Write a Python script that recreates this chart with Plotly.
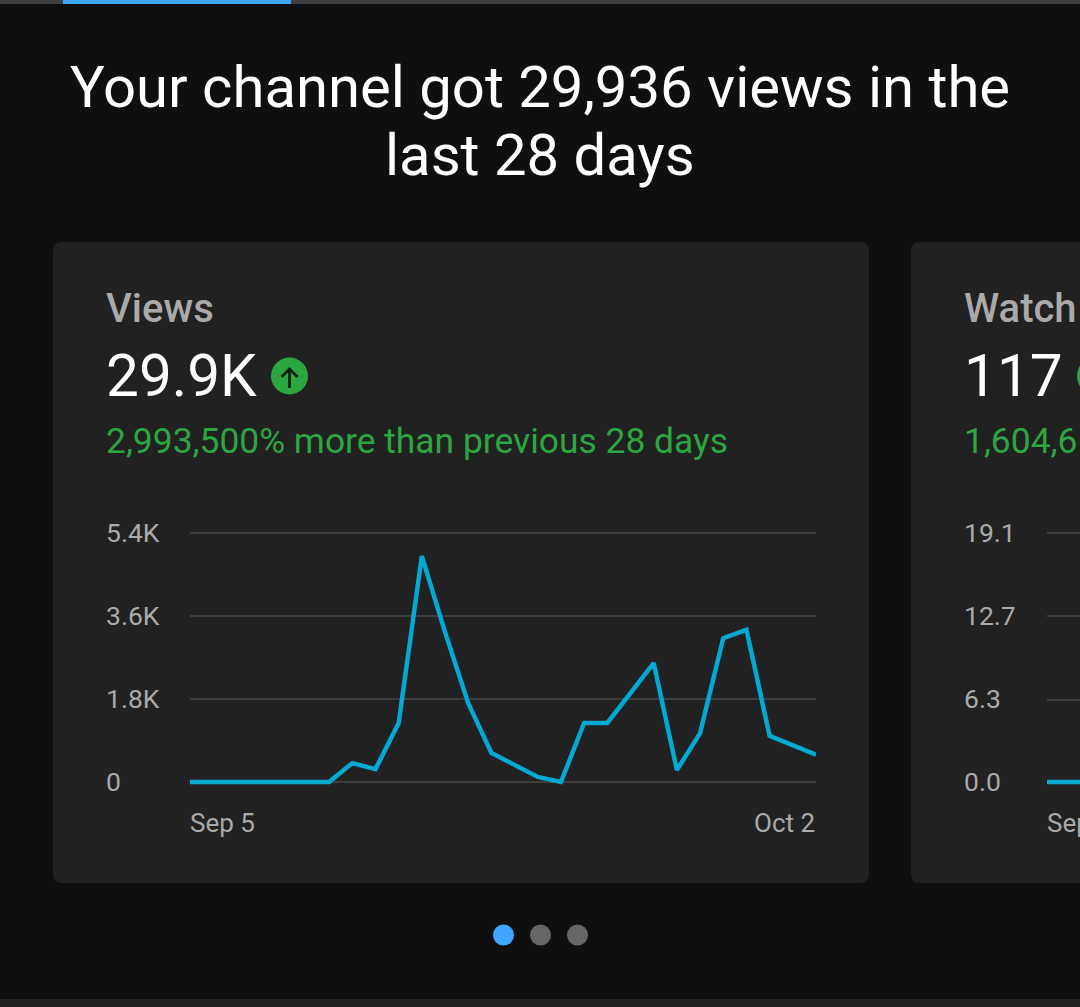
import plotly.graph_objects as go
import pandas as pd

W, H = 1080, 1007

dates = pd.date_range("2023-09-05", "2023-10-02").strftime("%Y-%m-%d").tolist()
views = [0, 0, 0, 0, 0, 0, 0, 410, 280, 1280, 4900, 3250, 1710, 630, 370, 110, 0,
         1280, 1280, 1930, 2580, 260, 1060, 3120, 3300, 1000, 800, 590]
watch_dates = ["2023-09-05", "2023-09-06", "2023-09-07"]
watch_hours = [0, 0, 0]

views_ticks = [0, 1800, 3600, 5400]
views_tick_labels = ["0", "1.8K", "3.6K", "5.4K"]
watch_ticks = [0, 6.3, 12.7, 19.1]
watch_tick_labels = ["0.0", "6.3", "12.7", "19.1"]

BG, CARD, GRID, LINE = "#0f0f0f", "#212121", "#3d3d3d", "#04a8d0"
BLUE, GREEN, MUTED = "#3ea6ff", "#2ba640", "#aaaaaa"
FONT = "Roboto"
PAD = 6  # pixels of plot area beyond the top and bottom gridlines
PLOT_TOP, PLOT_BOTTOM = 533, 782


def px(x):
    return x / W


def py(y):
    return 1 - y / H


def rect(x0, y0, x1, y1, color):
    return dict(type="rect", xref="paper", yref="paper", x0=px(x0), x1=px(x1), y0=py(y0), y1=py(y1),
                fillcolor=color, line_width=0, layer="below")


def rounded(x0, y0, x1, y1, r, color):
    p = (f"M {px(x0+r)} {py(y0)} L {px(x1-r)} {py(y0)} Q {px(x1)} {py(y0)} {px(x1)} {py(y0+r)} "
         f"L {px(x1)} {py(y1-r)} Q {px(x1)} {py(y1)} {px(x1-r)} {py(y1)} "
         f"L {px(x0+r)} {py(y1)} Q {px(x0)} {py(y1)} {px(x0)} {py(y1-r)} "
         f"L {px(x0)} {py(y0+r)} Q {px(x0)} {py(y0)} {px(x0+r)} {py(y0)} Z")
    return dict(type="path", xref="paper", yref="paper", path=p, fillcolor=color, line_width=0, layer="below")


def circle(cx, cy, r, color):
    return dict(type="circle", xref="paper", yref="paper", x0=px(cx-r), x1=px(cx+r), y0=py(cy+r), y1=py(cy-r),
                fillcolor=color, line_width=0, layer="above")


def text(x, y, s, size, color, anchor="left", weight=400):
    return dict(xref="paper", yref="paper", x=px(x), y=py(y), text=s, showarrow=False, xanchor=anchor,
                yanchor="middle", font=dict(family=FONT, size=size, color=color, weight=weight))


shapes = [
    rect(0, 0, W, 4, "#3f3f3f"),
    rect(63, 0, 291, 4, BLUE),
    rect(0, 999, W, H, "#212121"),
    rounded(53, 242, 869, 883, 9, CARD),
    rounded(911, 242, 1110, 883, 9, CARD),
    circle(289.5, 376, 18.5, GREEN),
    circle(1096, 376, 19, GREEN),
    circle(503.5, 935, 10.5, BLUE),
    circle(540.5, 935, 10.5, "#666666"),
    circle(577.5, 935, 10.5, "#666666"),
    dict(type="path", xref="paper", yref="paper", layer="above", line=dict(color="#12210f", width=2.8),
         path=f"M {px(289.5)} {py(388)} L {px(289.5)} {py(369)} M {px(281.5)} {py(377)} "
              f"L {px(289.5)} {py(369)} L {px(297.5)} {py(377)}"),
]

annotations = [
    text(540, 87, "Your channel got 29,936 views in the", 58, "#ffffff", "center"),
    text(540, 155, "last 28 days", 58, "#ffffff", "center"),
    text(104, 308, "Views", 40, MUTED, weight=500),
    text(104, 376, "29.9K", 58.5, "#ffffff"),
    text(104, 441, "2,993,500% more than previous 28 days", 35.4, GREEN),
    text(962, 308, "Watch", 40, MUTED, weight=500),
    text(962, 376, "117", 58.5, "#ffffff"),
    text(962, 441, "1,604,6", 35.4, GREEN),
]
for v, lab in zip(views_ticks, views_tick_labels):
    annotations.append(dict(xref="paper", yref="y", x=px(104), y=v, text=lab, showarrow=False, xanchor="left",
                            yanchor="middle", yshift=1, font=dict(family=FONT, size=26.5, color=MUTED)))
for v, lab in zip(watch_ticks, watch_tick_labels):
    annotations.append(dict(xref="paper", yref="y2", x=px(962), y=v, text=lab, showarrow=False, xanchor="left",
                            yanchor="middle", yshift=1, font=dict(family=FONT, size=26.5, color=MUTED)))
annotations += [
    dict(xref="x", yref="paper", x=dates[0], y=py(823), text="Sep 5", showarrow=False, xanchor="left",
         yanchor="middle", xshift=-2, font=dict(family=FONT, size=26, color=MUTED)),
    dict(xref="x", yref="paper", x=dates[-1], y=py(823), text="Oct 2", showarrow=False, xanchor="right",
         yanchor="middle", xshift=1, font=dict(family=FONT, size=26, color=MUTED)),
    dict(xref="x2", yref="paper", x=watch_dates[0], y=py(823), text="Sep", showarrow=False, xanchor="left",
         yanchor="middle", xshift=-2, font=dict(family=FONT, size=26, color=MUTED)),
]

fig = go.Figure()
fig.add_trace(go.Scatter(x=dates, y=views, mode="lines", line=dict(color=LINE, width=4.5), cliponaxis=False,
                         hoverinfo="skip", showlegend=False))
fig.add_trace(go.Scatter(x=watch_dates, y=watch_hours, mode="lines", line=dict(color=LINE, width=4.5),
                         cliponaxis=False, xaxis="x2", yaxis="y2", hoverinfo="skip", showlegend=False))

span = PLOT_BOTTOM - PLOT_TOP
ydom = [py(PLOT_BOTTOM + PAD), py(PLOT_TOP - PAD)]
v_pad = views_ticks[-1] * PAD / span
w_pad = watch_ticks[-1] * PAD / span
fig.update_layout(
    width=W, height=H, margin=dict(l=0, r=0, t=0, b=0), autosize=False,
    paper_bgcolor=BG, plot_bgcolor="rgba(0,0,0,0)", showlegend=False,
    shapes=shapes, annotations=annotations,
    xaxis=dict(domain=[px(190), px(816)], type="date", range=[dates[0], dates[-1]], showgrid=False,
               showticklabels=False, zeroline=False, ticks=""),
    yaxis=dict(domain=ydom, range=[-v_pad, views_ticks[-1] + v_pad], tickvals=views_ticks, showticklabels=False,
               gridcolor=GRID, gridwidth=2, zeroline=False, ticks=""),
    xaxis2=dict(domain=[px(1047), 1], type="date", range=["2023-09-05 00:00", "2023-09-06 10:00"], anchor="y2",
                showgrid=False, showticklabels=False, zeroline=False, ticks=""),
    yaxis2=dict(domain=ydom, range=[-w_pad, watch_ticks[-1] + w_pad], tickvals=watch_ticks, showticklabels=False,
                gridcolor=GRID, gridwidth=2, zeroline=False, ticks="", anchor="x2"),
)

fig.write_html("out.html", config=dict(displayModeBar=False),
               post_script=f"document.body.style.margin='0';document.body.style.overflow='hidden';"
                           f"document.body.style.background='{BG}';")
